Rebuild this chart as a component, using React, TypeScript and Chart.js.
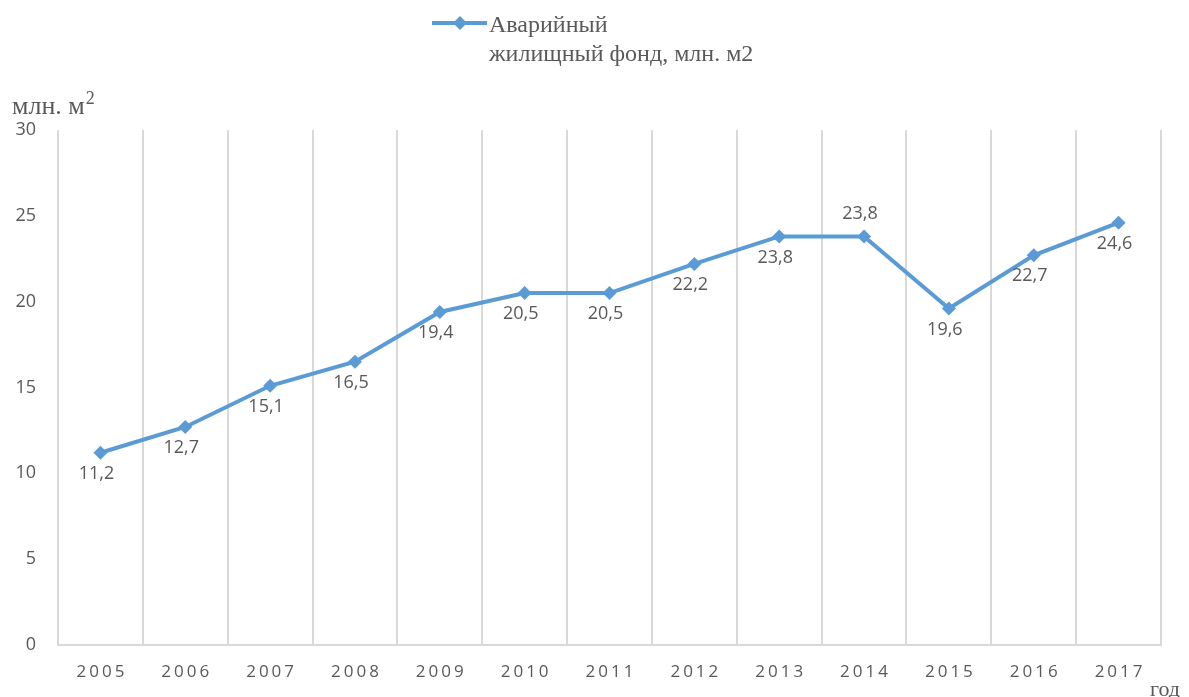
import React, { useEffect, useRef } from "react";
import { Chart, registerables } from "chart.js";

Chart.register(...registerables);

const years = ["2005","2006","2007","2008","2009","2010","2011","2012","2013","2014","2015","2016","2017"];
const values = [11.2, 12.7, 15.1, 16.5, 19.4, 20.5, 20.5, 22.2, 23.8, 23.8, 19.6, 22.7, 24.6];
const labelAbove = [false,false,false,false,false,false,false,false,false,true,false,false,false];
const legendLines = ["Аварийный", "жилищный фонд, млн. м2"];
const yTitle = "млн. м";
const xTitle = "год";

const LINE = "#5b9bd5";
const TEXT = "#595959";
const GRID = "#d9d9d9";

const fmt = (v: number) => v.toFixed(1).replace(".", ",");

const decor = {
  id: "decor",
  afterDraw(chart: any) {
    const ctx = chart.ctx as CanvasRenderingContext2D;
    const meta = chart.getDatasetMeta(0);
    const xs = chart.scales.x;
    ctx.save();
    // data labels
    ctx.fillStyle = TEXT;
    ctx.font = '18px "Open Sans", sans-serif';
    ctx.textAlign = "center";
    ctx.textBaseline = "middle";
    meta.data.forEach((pt: any, i: number) => {
      const dy = labelAbove[i] ? -23 : 21;
      ctx.fillText(fmt(values[i]), pt.x - 4, pt.y + dy);
    });
    // x tick labels with letter spacing
    (ctx as any).letterSpacing = "3px";
    ctx.font = '17px "Open Sans", sans-serif';
    years.forEach((y, i) => {
      const x = xs.getPixelForValue(i);
      ctx.fillText(y, x + 1.5, 672);
    });
    (ctx as any).letterSpacing = "0px";
    // legend
    ctx.strokeStyle = LINE;
    ctx.lineWidth = 4;
    ctx.beginPath();
    ctx.moveTo(432, 23);
    ctx.lineTo(487, 23);
    ctx.stroke();
    ctx.fillStyle = LINE;
    ctx.beginPath();
    ctx.moveTo(460, 16);
    ctx.lineTo(467, 23);
    ctx.lineTo(460, 30);
    ctx.lineTo(453, 23);
    ctx.closePath();
    ctx.fill();
    ctx.fillStyle = TEXT;
    ctx.font = '24px "Liberation Serif", serif';
    ctx.textAlign = "left";
    ctx.textBaseline = "alphabetic";
    ctx.fillText(legendLines[0], 489, 32);
    ctx.fillText(legendLines[1], 489, 61);
    // y title
    ctx.font = '26px "Liberation Serif", serif';
    ctx.fillText(yTitle, 12, 114);
    const w = ctx.measureText(yTitle).width;
    ctx.font = '18px "Liberation Serif", serif';
    ctx.fillText("2", 12 + w + 1, 104);
    // x title
    ctx.font = '22px "Liberation Serif", serif';
    ctx.fillText(xTitle, 1150, 696);
    ctx.restore();
  },
};

export default function App() {
  const ref = useRef<HTMLCanvasElement>(null);
  useEffect(() => {
    const chart = new Chart(ref.current!, {
      type: "line",
      data: {
        labels: years,
        datasets: [
          {
            label: legendLines.join(" "),
            data: values,
            borderColor: LINE,
            backgroundColor: LINE,
            borderWidth: 4,
            pointStyle: "rectRot",
            pointRadius: 7,
            pointHoverRadius: 7,
            pointBorderWidth: 0,
            tension: 0,
          },
        ],
      },
      options: {
        animation: false,
        responsive: false,
        maintainAspectRatio: false,
        layout: { padding: { left: 0, top: 130, right: 28, bottom: 0 } },
        plugins: { legend: { display: false }, tooltip: { enabled: false } },
        scales: {
          x: {
            offset: true,
            grid: { offset: true, color: GRID, lineWidth: 2, drawTicks: false },
            border: { color: GRID, width: 2 },
            ticks: { color: "rgba(0,0,0,0)", font: { size: 17 } },
            afterFit: (s: any) => { s.height = 52; },
          },
          y: {
            min: 0,
            max: 30,
            ticks: { stepSize: 5, color: TEXT, padding: 22, font: { size: 18, family: '"Open Sans", sans-serif' } },
            grid: { display: false, drawTicks: false },
            border: { display: false },
            afterFit: (s: any) => { s.width = 58; },
          },
        },
      },
      plugins: [decor],
    });
    return () => chart.destroy();
  }, []);
  return (
    <div style={{ position: "fixed", left: 0, top: 0, width: 1189, height: 697, background: "#fff" }}>
      <canvas ref={ref} width={1189} height={697} style={{ width: 1189, height: 697 }} />
    </div>
  );
}
